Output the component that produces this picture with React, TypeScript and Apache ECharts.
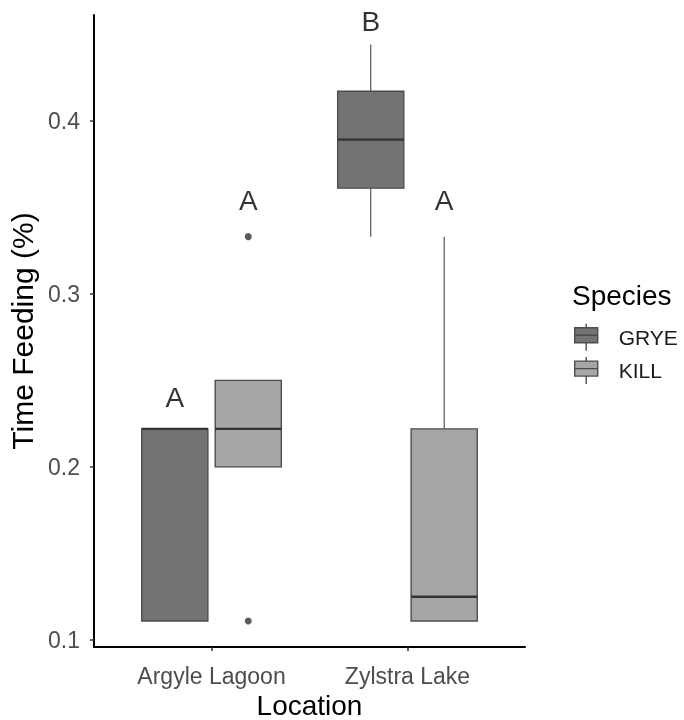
import React, { useEffect, useRef } from 'react';
import * as echarts from 'echarts';

const locations = ['Argyle Lagoon', 'Zylstra Lake'];
const species = ['GRYE', 'KILL'];
// [min, q1, median, q3, max] for each location
const gryeStats = [
  [0.111, 0.111, 0.222, 0.222, 0.222],
  [0.333, 0.361, 0.389, 0.417, 0.444],
];
const killStats = [
  [0.2, 0.2, 0.222, 0.25, 0.25],
  [0.111, 0.111, 0.125, 0.222, 0.333],
];
// [location index, value]
const killOutliers = [
  [0, 0.111],
  [0, 0.333],
];
const gryeLetters = ['A', 'B'];
const gryeLetterY = [0.24, 0.457];
const killLetters = ['A', 'A'];
const killLetterY = [0.354, 0.354];
const yTicks = [0.1, 0.2, 0.3, 0.4];

const FONT = 'Liberation Sans, Arial, sans-serif';
const DODGE = 0.1875;
const BOX_W = 0.3375;
const fills = ['#737373', '#a6a6a6'];

export default function App() {
  const ref = useRef<HTMLDivElement>(null);
  useEffect(() => {
    const chart = echarts.init(ref.current!, undefined, { renderer: 'svg' });
    const statsList = [gryeStats, killStats];
    const renderBox = (params: any, api: any) => {
      const x = api.value(0);
      const mn = api.value(1), q1 = api.value(2), md = api.value(3), q3 = api.value(4), mx = api.value(5);
      const half = api.size([BOX_W, 0])[0] / 2;
      const pMin = api.coord([x, mn]);
      const pQ1 = api.coord([x, q1]);
      const pMd = api.coord([x, md]);
      const pQ3 = api.coord([x, q3]);
      const pMx = api.coord([x, mx]);
      const fill = fills[params.seriesIndex];
      return {
        type: 'group',
        children: [
          { type: 'line', shape: { x1: pQ3[0], y1: pQ3[1], x2: pMx[0], y2: pMx[1] }, style: { stroke: '#555', lineWidth: 1.2 } },
          { type: 'line', shape: { x1: pMin[0], y1: pMin[1], x2: pQ1[0], y2: pQ1[1] }, style: { stroke: '#555', lineWidth: 1.2 } },
          { type: 'rect', shape: { x: pQ3[0] - half, y: pQ3[1], width: half * 2, height: pQ1[1] - pQ3[1] }, style: { fill, stroke: '#4d4d4d', lineWidth: 1.4 } },
          { type: 'line', shape: { x1: pMd[0] - half, y1: pMd[1], x2: pMd[0] + half, y2: pMd[1] }, style: { stroke: '#333', lineWidth: 2.4 } },
        ],
      };
    };
    const boxSeries = species.map((sp, si) => ({
      name: sp,
      type: 'custom',
      renderItem: renderBox,
      itemStyle: { color: fills[si], borderColor: '#4d4d4d', borderWidth: 1 },
      encode: { x: 0, y: [1, 2, 3, 4, 5] },
      data: statsList[si].map((s, li) => [li + 1 + (si === 0 ? -DODGE : DODGE), ...s]),
      z: 2,
    }));
    const letterSeries = [
      { letters: gryeLetters, ys: gryeLetterY, off: -DODGE },
      { letters: killLetters, ys: killLetterY, off: DODGE },
    ].map((d) => ({
      type: 'scatter',
      symbolSize: 0,
      silent: true,
      label: { show: true, position: 'inside', formatter: '{b}', fontSize: 28, color: '#000', fontFamily: FONT },
      data: d.letters.map((l, li) => ({ name: l, value: [li + 1 + d.off, d.ys[li]] })),
      z: 3,
    }));
    const outlierSeries = {
      type: 'scatter',
      symbol: 'circle',
      symbolSize: 7,
      itemStyle: { color: '#333' },
      data: killOutliers.map(([li, v]) => [li + 1 + DODGE, v]),
      z: 3,
    };
    const legendIcon = 'path://M0,4 L23,4 L23,19 L0,19 Z M0,11.5 L23,11.5 M11.5,0 L11.5,4 M11.5,19 L11.5,27';
    chart.setOption({
      animation: false,
      grid: { left: 94, right: 159, top: 15, bottom: 73, containLabel: false, outerBoundsMode: 'none' },
      xAxis: {
        type: 'value',
        min: 0.4,
        max: 2.6,
        name: 'Location',
        nameLocation: 'middle',
        nameGap: 43,
        nameTextStyle: { fontSize: 28, color: '#000', fontFamily: FONT },
        axisLine: { show: true, lineStyle: { color: '#000', width: 2 } },
        axisTick: { show: true, customValues: [1, 2], length: 4, lineStyle: { color: '#333', width: 1.5 } },
        axisLabel: {
          customValues: [1, 2],
          formatter: (v: number) => locations[Math.round(v) - 1] ?? '',
          fontSize: 23,
          color: '#4d4d4d',
          margin: 17,
          fontFamily: FONT,
        },
        splitLine: { show: false },
      },
      yAxis: {
        type: 'value',
        min: 0.096,
        max: 0.461,
        name: 'Time Feeding (%)',
        nameLocation: 'middle',
        nameGap: 52,
        nameTextStyle: { fontSize: 30, color: '#000', fontFamily: FONT },
        axisLine: { show: true, lineStyle: { color: '#000', width: 2 } },
        axisTick: { show: true, customValues: yTicks, length: 4, lineStyle: { color: '#333', width: 1.5 } },
        axisLabel: {
          customValues: yTicks,
          formatter: (v: number) => v.toFixed(1),
          fontSize: 23,
          color: '#4d4d4d',
          margin: 14,
          fontFamily: FONT,
        },
        splitLine: { show: false },
      },
      legend: {
        orient: 'vertical',
        left: 574,
        top: 323,
        padding: 0,
        itemWidth: 23,
        itemHeight: 27,
        itemGap: 5,
        icon: legendIcon,
        data: species.map((sp, si) => ({
          name: sp,
          icon: legendIcon,
          itemStyle: { color: fills[si], borderColor: '#4d4d4d', borderWidth: 1.4 },
        })),
        textStyle: { fontSize: 21, color: '#1a1a1a', fontFamily: FONT, padding: [0, 0, 0, 16] },
        selectedMode: false,
      },
      graphic: [
        {
          type: 'text',
          left: 572,
          top: 281,
          style: { text: 'Species', fontSize: 28, fill: '#000', fontFamily: FONT },
        },
      ],
      series: [...boxSeries, ...letterSeries, outlierSeries],
    });
    return () => chart.dispose();
  }, []);
  return <div ref={ref} style={{ position: 'fixed', left: 0, top: 0, width: 684, height: 720 }} />;
}
